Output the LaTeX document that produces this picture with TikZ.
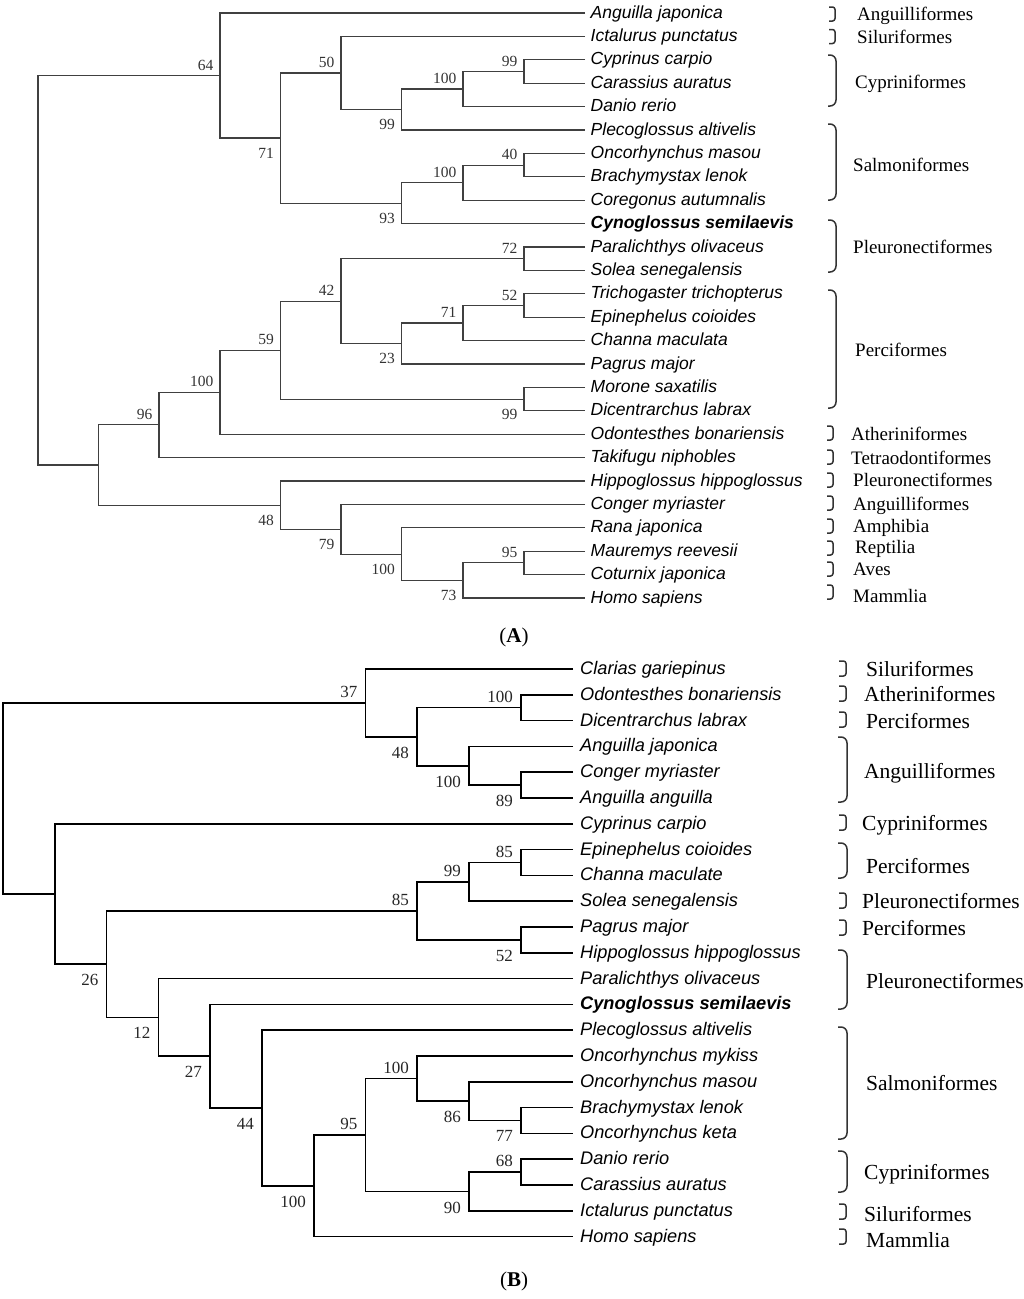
\documentclass[tikz,border=0pt]{standalone}
\usepackage{fontspec}
\setmainfont{Liberation Serif}
\setsansfont{Liberation Sans}

\begin{document}
\begin{tikzpicture}[x=1pt, y=-1pt,
  edgeA/.style = {line width=1.1pt, draw=black!75},
  edgeB/.style = {line width=1.5pt, draw=black},
  leafA/.style = {anchor=west, inner xsep=5.5pt, inner ysep=0pt, text height=12.2pt, text depth=2pt, font=\sffamily\itshape\fontsize{17.5}{18}\selectfont},
  leafB/.style = {anchor=west, inner xsep=7pt, inner ysep=0pt, text height=12.8pt, text depth=2pt, font=\sffamily\itshape\fontsize{18.2}{19}\selectfont},
  upA/.style = {anchor=south east, inner sep=0pt, xshift=-6.5pt, yshift=5pt, font=\fontsize{15.5}{15}\selectfont, text=black!80},
  dnA/.style = {anchor=north east, inner sep=0pt, xshift=-6.5pt, yshift=-10pt, font=\fontsize{15.5}{15}\selectfont, text=black!80},
  upB/.style = {anchor=south east, inner sep=0pt, xshift=-8pt, yshift=5pt, font=\fontsize{17}{17}\selectfont, text=black!85},
  dnB/.style = {anchor=north east, inner sep=0pt, xshift=-8pt, yshift=-10pt, font=\fontsize{17}{17}\selectfont, text=black!85},
  ordA/.style = {anchor=west, inner sep=0pt, text height=12.6pt, text depth=0pt, font=\fontsize{19}{19}\selectfont},
  ordB/.style = {anchor=west, inner sep=0pt, text height=14.2pt, text depth=0pt, font=\fontsize{21.5}{22}\selectfont},
  brkA/.style = {line width=1.5pt, draw=black!80, rounded corners=2.5pt},
  brkB/.style = {line width=1.5pt, draw=black!80, rounded corners=2.5pt},
  capt/.style = {inner sep=0pt, font=\fontsize{21}{21}\selectfont}]

\useasboundingbox (0,0) rectangle (1024,1299);

% ---------- tree A ----------
\node[leafA] (a1) at (585,13) {Anguilla japonica};
\node[leafA] (a2) at (585,36.4) {Ictalurus punctatus};
\node[leafA] (a3) at (585,59.8) {Cyprinus carpio};
\node[leafA] (a4) at (585,83.2) {Carassius auratus};
\node[leafA] (a5) at (585,106.6) {Danio rerio};
\node[leafA] (a6) at (585,130) {Plecoglossus altivelis};
\node[leafA] (a7) at (585,153.4) {Oncorhynchus masou};
\node[leafA] (a8) at (585,176.8) {Brachymystax lenok};
\node[leafA] (a9) at (585,200.2) {Coregonus autumnalis};
\node[leafA] (a10) at (585,223.6) {\bfseries Cynoglossus semilaevis};
\node[leafA] (a11) at (585,247) {Paralichthys olivaceus};
\node[leafA] (a12) at (585,270.4) {Solea senegalensis};
\node[leafA] (a13) at (585,293.8) {Trichogaster trichopterus};
\node[leafA] (a14) at (585,317.2) {Epinephelus coioides};
\node[leafA] (a15) at (585,340.6) {Channa maculata};
\node[leafA] (a16) at (585,364) {Pagrus major};
\node[leafA] (a17) at (585,387.4) {Morone saxatilis};
\node[leafA] (a18) at (585,410.8) {Dicentrarchus labrax};
\node[leafA] (a19) at (585,434.2) {Odontesthes bonariensis};
\node[leafA] (a20) at (585,457.6) {Takifugu niphobles};
\node[leafA] (a21) at (585,481) {Hippoglossus hippoglossus};
\node[leafA] (a22) at (585,504.4) {Conger myriaster};
\node[leafA] (a23) at (585,527.8) {Rana japonica};
\node[leafA] (a24) at (585,551.2) {Mauremys reevesii};
\node[leafA] (a25) at (585,574.6) {Coturnix japonica};
\node[leafA] (a26) at (585,598) {Homo sapiens};

\coordinate (cA1) at (524,71.5);
\coordinate (cA2) at (463,89);
\coordinate (cA3) at (401.5,109.5);
\coordinate (cA4) at (341,73);
\coordinate (cA5) at (524,165.1);
\coordinate (cA6) at (463,182.7);
\coordinate (cA7) at (401.5,203.1);
\coordinate (cA8) at (280.5,138);
\coordinate (cA9) at (220,75.5);
\coordinate (cA10) at (524,258.7);
\coordinate (cA11) at (524,305.5);
\coordinate (cA12) at (463,323);
\coordinate (cA13) at (401.5,343.5);
\coordinate (cA14) at (341,301.1);
\coordinate (cA15) at (524,399.1);
\coordinate (cA16) at (280.5,350.1);
\coordinate (cA17) at (220,392.2);
\coordinate (cA18) at (159,424.9);
\coordinate (cA19) at (524,562.9);
\coordinate (cA20) at (463,580.5);
\coordinate (cA21) at (401.5,554.2);
\coordinate (cA22) at (341,529.3);
\coordinate (cA23) at (280.5,505.2);
\coordinate (cA24) at (98.5,465);
\coordinate (cA25) at (38,270.3);

\draw[edgeA] (a3.west) -| (cA1) |- (a4.west);
\draw[edgeA] (cA1) -| (cA2) |- (a5.west);
\draw[edgeA] (cA2) -| (cA3) |- (a6.west);
\draw[edgeA] (a2.west) -| (cA4) |- (cA3);
\draw[edgeA] (a7.west) -| (cA5) |- (a8.west);
\draw[edgeA] (cA5) -| (cA6) |- (a9.west);
\draw[edgeA] (cA6) -| (cA7) |- (a10.west);
\draw[edgeA] (cA4) -| (cA8) |- (cA7);
\draw[edgeA] (a1.west) -| (cA9) |- (cA8);
\draw[edgeA] (a11.west) -| (cA10) |- (a12.west);
\draw[edgeA] (a13.west) -| (cA11) |- (a14.west);
\draw[edgeA] (cA11) -| (cA12) |- (a15.west);
\draw[edgeA] (cA12) -| (cA13) |- (a16.west);
\draw[edgeA] (cA10) -| (cA14) |- (cA13);
\draw[edgeA] (a17.west) -| (cA15) |- (a18.west);
\draw[edgeA] (cA14) -| (cA16) |- (cA15);
\draw[edgeA] (cA16) -| (cA17) |- (a19.west);
\draw[edgeA] (cA17) -| (cA18) |- (a20.west);
\draw[edgeA] (a24.west) -| (cA19) |- (a25.west);
\draw[edgeA] (cA19) -| (cA20) |- (a26.west);
\draw[edgeA] (a23.west) -| (cA21) |- (cA20);
\draw[edgeA] (a22.west) -| (cA22) |- (cA21);
\draw[edgeA] (a21.west) -| (cA23) |- (cA22);
\draw[edgeA] (cA18) -| (cA24) |- (cA23);
\draw[edgeA] (cA9) -| (cA25) |- (cA24);

\node[upA] (bA1) at (cA1) {99};
\node[upA] (bA2) at (cA2) {100};
\node[dnA] (bA3) at (cA3) {99};
\node[upA] (bA4) at (cA4) {50};
\node[upA] (bA5) at (cA5) {40};
\node[upA] (bA6) at (cA6) {100};
\node[dnA] (bA7) at (cA7) {93};
\node[dnA] (bA8) at (cA8) {71};
\node[upA] (bA9) at (cA9) {64};
\node[upA] (bA10) at (cA10) {72};
\node[upA] (bA11) at (cA11) {52};
\node[upA] (bA12) at (cA12) {71};
\node[dnA] (bA13) at (cA13) {23};
\node[upA] (bA14) at (cA14) {42};
\node[dnA] (bA15) at (cA15) {99};
\node[upA] (bA16) at (cA16) {59};
\node[upA] (bA17) at (cA17) {100};
\node[upA] (bA18) at (cA18) {96};
\node[upA] (bA19) at (cA19) {95};
\node[dnA] (bA20) at (cA20) {73};
\node[dnA] (bA21) at (cA21) {100};
\node[dnA] (bA22) at (cA22) {79};
\node[dnA] (bA23) at (cA23) {48};

% orders, tree A
\draw[brkA] (829,7) -- (835,7) -- (835,21) -- (829,21);
\draw[brkA] (829,29.5) -- (835,29.5) -- (835,43.5) -- (829,43.5);
\draw[brkA, rounded corners=6pt] (828,55) -- (836,55) -- (836,106) -- (828,106);
\draw[brkA, rounded corners=6pt] (828,124) -- (836,124) -- (836,200) -- (828,200);
\draw[brkA, rounded corners=6pt] (828,220) -- (836,220) -- (836,272) -- (828,272);
\draw[brkA, rounded corners=6pt] (828,290) -- (836,290) -- (836,408) -- (828,408);
\draw[brkA] (827,426) -- (833,426) -- (833,440) -- (827,440);
\draw[brkA] (827,450) -- (833,450) -- (833,464) -- (827,464);
\draw[brkA] (827,473) -- (833,473) -- (833,487) -- (827,487);
\draw[brkA] (827,496) -- (833,496) -- (833,510) -- (827,510);
\draw[brkA] (827,519) -- (833,519) -- (833,533) -- (827,533);
\draw[brkA] (827,541) -- (833,541) -- (833,555) -- (827,555);
\draw[brkA] (827,562) -- (833,562) -- (833,576) -- (827,576);
\draw[brkA] (827,585) -- (833,585) -- (833,599) -- (827,599);

\node[ordA] (oA1) at (857,14) {Anguilliformes};
\node[ordA] (oA2) at (857,37) {Siluriformes};
\node[ordA] (oA3) at (855,82) {Cypriniformes};
\node[ordA] (oA4) at (853,165) {Salmoniformes};
\node[ordA] (oA5) at (853,247) {Pleuronectiformes};
\node[ordA] (oA6) at (855,350) {Perciformes};
\node[ordA] (oA7) at (851,434) {Atheriniformes};
\node[ordA] (oA8) at (851,458) {Tetraodontiformes};
\node[ordA] (oA9) at (853,480) {Pleuronectiformes};
\node[ordA] (oA10) at (853,504) {Anguilliformes};
\node[ordA] (oA11) at (853,526) {Amphibia};
\node[ordA] (oA12) at (855,547) {Reptilia};
\node[ordA] (oA13) at (853,569) {Aves};
\node[ordA] (oA14) at (853,596) {Mammlia};

\node[capt] (capA) at (514,637) {(\textbf{A})};

% ---------- tree B ----------
\node[leafB] (b1) at (573,669) {Clarias gariepinus};
\node[leafB] (b2) at (573,694.8) {Odontesthes bonariensis};
\node[leafB] (b3) at (573,720.6) {Dicentrarchus labrax};
\node[leafB] (b4) at (573,746.4) {Anguilla japonica};
\node[leafB] (b5) at (573,772.2) {Conger myriaster};
\node[leafB] (b6) at (573,798) {Anguilla anguilla};
\node[leafB] (b7) at (573,823.8) {Cyprinus carpio};
\node[leafB] (b8) at (573,849.6) {Epinephelus coioides};
\node[leafB] (b9) at (573,875.4) {Channa maculate};
\node[leafB] (b10) at (573,901.2) {Solea senegalensis};
\node[leafB] (b11) at (573,927) {Pagrus major};
\node[leafB] (b12) at (573,952.8) {Hippoglossus hippoglossus};
\node[leafB] (b13) at (573,978.6) {Paralichthys olivaceus};
\node[leafB] (b14) at (573,1004.4) {\bfseries Cynoglossus semilaevis};
\node[leafB] (b15) at (573,1030.2) {Plecoglossus altivelis};
\node[leafB] (b16) at (573,1056) {Oncorhynchus mykiss};
\node[leafB] (b17) at (573,1081.8) {Oncorhynchus masou};
\node[leafB] (b18) at (573,1107.6) {Brachymystax lenok};
\node[leafB] (b19) at (573,1133.4) {Oncorhynchus keta};
\node[leafB] (b20) at (573,1159.2) {Danio rerio};
\node[leafB] (b21) at (573,1185) {Carassius auratus};
\node[leafB] (b22) at (573,1210.8) {Ictalurus punctatus};
\node[leafB] (b23) at (573,1236.6) {Homo sapiens};

\coordinate (cB1) at (521,707.7);
\coordinate (cB2) at (521,785.1);
\coordinate (cB3) at (469,765.8);
\coordinate (cB4) at (417,736.8);
\coordinate (cB5) at (365.5,702.9);
\coordinate (cB6) at (521,862.5);
\coordinate (cB7) at (469,881.9);
\coordinate (cB8) at (521,939.9);
\coordinate (cB9) at (417,910.9);
\coordinate (cB10) at (521,1120.5);
\coordinate (cB11) at (469,1101.2);
\coordinate (cB12) at (417,1078.6);
\coordinate (cB13) at (521,1172.1);
\coordinate (cB14) at (469,1191.5);
\coordinate (cB15) at (365.5,1135);
\coordinate (cB16) at (314,1185.8);
\coordinate (cB17) at (262,1108);
\coordinate (cB18) at (210,1056.2);
\coordinate (cB19) at (158.5,1017.4);
\coordinate (cB20) at (106.5,964.2);
\coordinate (cB21) at (55,894);
\coordinate (cB22) at (3,798.5);

\draw[edgeB] (b2.west) -| (cB1) |- (b3.west);
\draw[edgeB] (b5.west) -| (cB2) |- (b6.west);
\draw[edgeB] (b4.west) -| (cB3) |- (cB2);
\draw[edgeB] (cB1) -| (cB4) |- (cB3);
\draw[edgeB] (b1.west) -| (cB5) |- (cB4);
\draw[edgeB] (b8.west) -| (cB6) |- (b9.west);
\draw[edgeB] (cB6) -| (cB7) |- (b10.west);
\draw[edgeB] (b11.west) -| (cB8) |- (b12.west);
\draw[edgeB] (cB7) -| (cB9) |- (cB8);
\draw[edgeB] (b18.west) -| (cB10) |- (b19.west);
\draw[edgeB] (b17.west) -| (cB11) |- (cB10);
\draw[edgeB] (b16.west) -| (cB12) |- (cB11);
\draw[edgeB] (b20.west) -| (cB13) |- (b21.west);
\draw[edgeB] (cB13) -| (cB14) |- (b22.west);
\draw[edgeB] (cB12) -| (cB15) |- (cB14);
\draw[edgeB] (cB15) -| (cB16) |- (b23.west);
\draw[edgeB] (b15.west) -| (cB17) |- (cB16);
\draw[edgeB] (b14.west) -| (cB18) |- (cB17);
\draw[edgeB] (b13.west) -| (cB19) |- (cB18);
\draw[edgeB] (cB9) -| (cB20) |- (cB19);
\draw[edgeB] (b7.west) -| (cB21) |- (cB20);
\draw[edgeB] (cB5) -| (cB22) |- (cB21);

\node[upB] (bB1) at (cB1) {100};
\node[dnB] (bB2) at (cB2) {89};
\node[dnB] (bB3) at (cB3) {100};
\node[dnB] (bB4) at (cB4) {48};
\node[upB] (bB5) at (cB5) {37};
\node[upB] (bB6) at (cB6) {85};
\node[upB] (bB7) at (cB7) {99};
\node[dnB] (bB8) at (cB8) {52};
\node[upB] (bB9) at (cB9) {85};
\node[dnB] (bB10) at (cB10) {77};
\node[dnB] (bB11) at (cB11) {86};
\node[upB] (bB12) at (cB12) {100};
\node[upB] (bB13) at (cB13) {68};
\node[dnB] (bB14) at (cB14) {90};
\node[upB] (bB15) at (cB15) {95};
\node[dnB] (bB16) at (cB16) {100};
\node[dnB] (bB17) at (cB17) {44};
\node[dnB] (bB18) at (cB18) {27};
\node[dnB] (bB19) at (cB19) {12};
\node[dnB] (bB20) at (cB20) {26};

% orders, tree B
\draw[brkB] (839,661) -- (846,661) -- (846,676) -- (839,676);
\draw[brkB] (839,686) -- (846,686) -- (846,701) -- (839,701);
\draw[brkB] (839,712) -- (846,712) -- (846,727) -- (839,727);
\draw[brkB, rounded corners=6pt] (838,737) -- (847,737) -- (847,802) -- (838,802);
\draw[brkB] (839,815) -- (846,815) -- (846,830) -- (839,830);
\draw[brkB, rounded corners=6pt] (838,843) -- (847,843) -- (847,878) -- (838,878);
\draw[brkB] (839,893) -- (846,893) -- (846,908) -- (839,908);
\draw[brkB] (839,920) -- (846,920) -- (846,935) -- (839,935);
\draw[brkB, rounded corners=6pt] (838,950) -- (847,950) -- (847,1009) -- (838,1009);
\draw[brkB, rounded corners=6pt] (838,1027) -- (847,1027) -- (847,1139) -- (838,1139);
\draw[brkB, rounded corners=6pt] (838,1151) -- (847,1151) -- (847,1192) -- (838,1192);
\draw[brkB] (839,1204) -- (846,1204) -- (846,1219) -- (839,1219);
\draw[brkB] (839,1229) -- (846,1229) -- (846,1244) -- (839,1244);

\node[ordB] (oB1) at (866,669) {Siluriformes};
\node[ordB] (oB2) at (864,694) {Atheriniformes};
\node[ordB] (oB3) at (866,721) {Perciformes};
\node[ordB] (oB4) at (864,771) {Anguilliformes};
\node[ordB] (oB5) at (862,823) {Cypriniformes};
\node[ordB] (oB6) at (866,866) {Perciformes};
\node[ordB] (oB7) at (862,901) {Pleuronectiformes};
\node[ordB] (oB8) at (862,928) {Perciformes};
\node[ordB] (oB9) at (866,981) {Pleuronectiformes};
\node[ordB] (oB10) at (866,1083) {Salmoniformes};
\node[ordB] (oB11) at (864,1172) {Cypriniformes};
\node[ordB] (oB12) at (864,1214) {Siluriformes};
\node[ordB] (oB13) at (866,1240) {Mammlia};

\node[capt] (capB) at (514,1281) {(\textbf{B})};
\end{tikzpicture}
\end{document}
